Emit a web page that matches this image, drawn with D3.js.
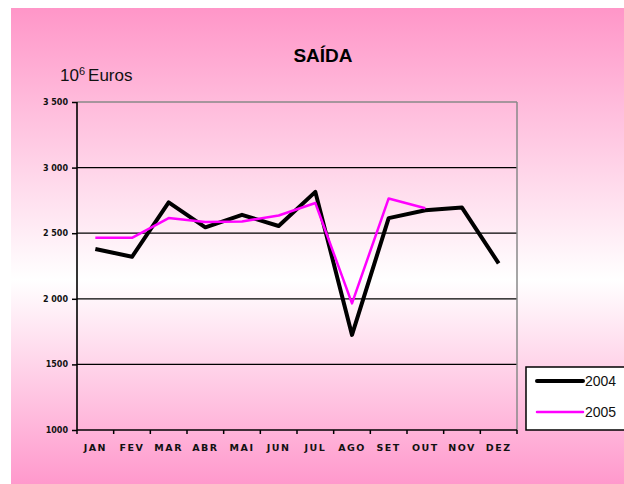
<!DOCTYPE html>
<html>
<head>
<meta charset="utf-8">
<script src="https://cdn.jsdelivr.net/npm/d3@7"></script>
<style>
  body { margin: 0; background: #fff; }
  svg { display: block; }
</style>
</head>
<body>
<svg id="chart"></svg>
<script>
var meses = ["JAN", "FEV", "MAR", "ABR", "MAI", "JUN", "JUL", "AGO", "SET", "OUT", "NOV", "DEZ"];
var saida2004 = [2380, 2320, 2735, 2545, 2640, 2555, 2815, 1725, 2615, 2675, 2695, 2270];
var saida2005 = [2465, 2465, 2615, 2585, 2590, 2635, 2730, 1965, 2765, 2690, null, null];
var yTicks = [1000, 1500, 2000, 2500, 3000, 3500];
var yLabels = ["1000", "1500", "2 000", "2 500", "3 000", "3 500"];

var W = 624, H = 484;
var margin = { top: 102, right: 107, bottom: 54, left: 77 },
    width = W - margin.left - margin.right,
    height = H - margin.top - margin.bottom;

var svg = d3.select("#chart")
    .attr("width", W)
    .attr("height", H);

// fundo rosa com gradiente
var defs = svg.append("defs");
var grad = defs.append("linearGradient")
    .attr("id", "fundo")
    .attr("x1", 0).attr("y1", 0).attr("x2", 0).attr("y2", 1);
grad.append("stop").attr("offset", "0%").attr("stop-color", "#ff96c8");
grad.append("stop").attr("offset", "57%").attr("stop-color", "#ffffff");
grad.append("stop").attr("offset", "100%").attr("stop-color", "#ff99cc");

svg.append("rect")
    .attr("x", 11).attr("y", 8)
    .attr("width", W - 11).attr("height", H - 8)
    .attr("fill", "url(#fundo)");

svg.append("text")
    .attr("x", 323).attr("y", 62)
    .attr("text-anchor", "middle")
    .style("font-family", "Liberation Sans, Arial, sans-serif")
    .style("font-weight", "bold")
    .style("font-size", "19px")
    .text("SAÍDA");

var unid = svg.append("text")
    .attr("x", 60).attr("y", 81)
    .style("font-family", "Liberation Sans, Arial, sans-serif")
    .style("font-size", "17px")
    .attr("fill", "#111");
unid.append("tspan").text("10");
unid.append("tspan").attr("dy", -6).style("font-size", "11px").text("6");
unid.append("tspan").attr("dy", 6).attr("dx", 3).text("Euros");

var g = svg.append("g")
    .attr("transform", "translate(" + margin.left + "," + margin.top + ")");

var x = d3.scaleBand()
    .domain(meses)
    .range([0, width])
    .padding(0);

var y = d3.scaleLinear()
    .domain([1000, 3500])
    .range([height, 0]);

// grelha
g.selectAll(".grid")
    .data(yTicks.filter(function(d) { return d > 1000 && d < 3500; }))
    .enter().append("line")
    .attr("x1", 0).attr("x2", width)
    .attr("y1", function(d) { return y(d); })
    .attr("y2", function(d) { return y(d); })
    .attr("stroke", "#000")
    .attr("stroke-width", 1.2);

// moldura cinzenta
g.append("line")
    .attr("x1", 0).attr("x2", width).attr("y1", 0).attr("y2", 0)
    .attr("stroke", "#888").attr("stroke-width", 1.5);
g.append("line")
    .attr("x1", width).attr("x2", width).attr("y1", 0).attr("y2", height)
    .attr("stroke", "#888").attr("stroke-width", 1.5);

var yAxis = g.append("g")
    .call(d3.axisLeft(y)
        .tickValues(yTicks)
        .tickSize(5)
        .tickPadding(4)
        .tickFormat(function(d, i) { return yLabels[i]; }));

var xAxis = g.append("g")
    .attr("transform", "translate(0," + height + ")")
    .call(d3.axisBottom(x).tickSize(0).tickPadding(14));

// marcas entre categorias
xAxis.selectAll(".sep")
    .data(d3.range(meses.length + 1))
    .enter().append("line")
    .attr("class", "sep")
    .attr("x1", function(i) { return i * x.bandwidth(); })
    .attr("x2", function(i) { return i * x.bandwidth(); })
    .attr("y1", 0).attr("y2", 4)
    .attr("stroke", "#000").attr("stroke-width", 1.5);

[yAxis, xAxis].forEach(function(ax) {
    ax.select(".domain").attr("stroke", "#000").attr("stroke-width", 1.6);
    ax.selectAll(".tick line").attr("stroke", "#000").attr("stroke-width", 1.5);
    ax.selectAll("text")
        .attr("fill", "#111")
        .style("font-family", "DejaVu Sans, sans-serif")
        .style("font-weight", "bold")
        .style("font-size", "8px");
});
xAxis.selectAll(".tick text")
    .style("font-size", "9.5px")
    .style("letter-spacing", "1.5px");
yAxis.select(".domain").attr("d", "M0," + height + "V0");
xAxis.select(".domain").attr("d", "M0,0H" + width);

var line = d3.line()
    .defined(function(d) { return d != null; })
    .x(function(d, i) { return x(meses[i]) + x.bandwidth() / 2; })
    .y(function(d) { return y(d); });

g.append("path")
    .datum(saida2004)
    .attr("d", line)
    .attr("fill", "none")
    .attr("stroke", "#000")
    .attr("stroke-width", 4)
    .attr("stroke-linejoin", "round");

g.append("path")
    .datum(saida2005)
    .attr("d", line)
    .attr("fill", "none")
    .attr("stroke", "#ff00ff")
    .attr("stroke-width", 2.5)
    .attr("stroke-linejoin", "round");

// legenda
var leg = svg.append("g").attr("transform", "translate(526,367)");
leg.append("rect")
    .attr("width", 110).attr("height", 63)
    .attr("fill", "#fff")
    .attr("stroke", "#000").attr("stroke-width", 1.5);

var series = [
    { nome: "2004", cor: "#000", w: 4 },
    { nome: "2005", cor: "#ff00ff", w: 2.5 }
];
series.forEach(function(s, i) {
    var yy = 14 + i * 31;
    leg.append("line")
        .attr("x1", 11).attr("x2", 57)
        .attr("y1", yy).attr("y2", yy)
        .attr("stroke", s.cor).attr("stroke-width", s.w)
        .attr("stroke-linecap", "round");
    leg.append("text")
        .attr("x", 59).attr("y", yy + 5)
        .style("font-family", "Liberation Sans, Arial, sans-serif")
        .style("font-size", "14px")
        .attr("fill", "#111")
        .text(s.nome);
});
</script>
</body>
</html>
